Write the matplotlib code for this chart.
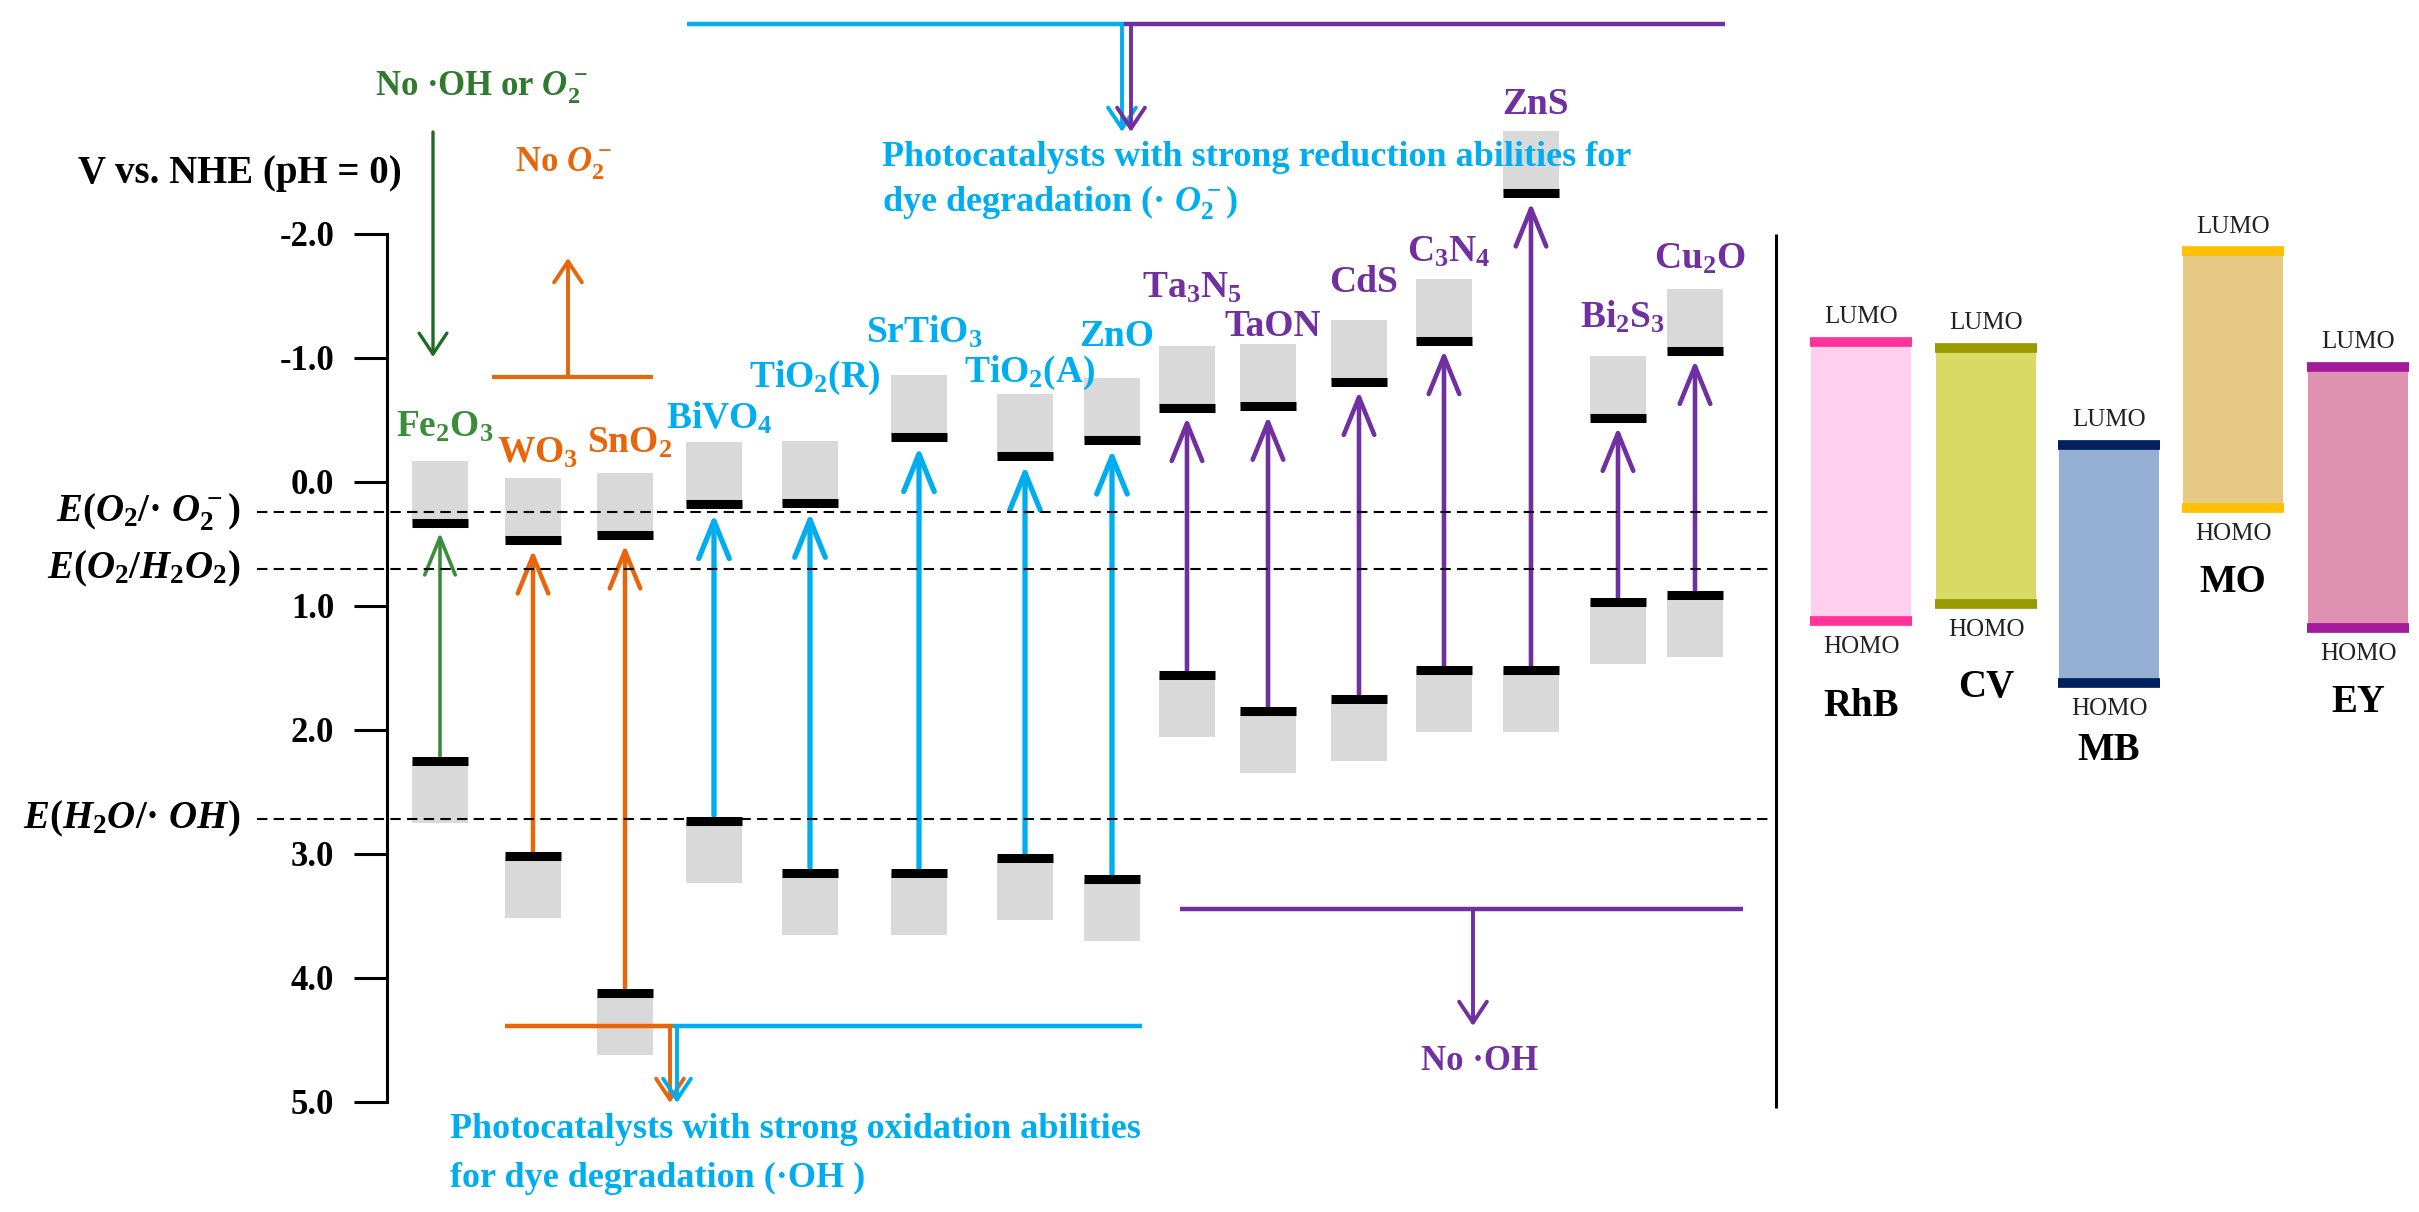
import matplotlib
matplotlib.use("Agg")
import matplotlib.pyplot as plt
import numpy as np
from matplotlib.ticker import FormatStrFormatter

plt.rcParams['font.family'] = ['Liberation Serif', 'DejaVu Serif']
plt.rcParams['font.weight'] = 'bold'
plt.rcParams['mathtext.fontset'] = 'custom'
plt.rcParams['mathtext.rm'] = 'Liberation Serif:bold'
plt.rcParams['mathtext.bf'] = 'Liberation Serif:bold'
plt.rcParams['mathtext.it'] = 'Liberation Serif:italic:bold'
plt.rcParams['mathtext.fallback'] = 'stix'
plt.rcParams['axes.unicode_minus'] = False

# semiconductor band edges (V vs NHE)
materials = ['Fe$_2$O$_3$', 'WO$_3$', 'SnO$_2$', 'BiVO$_4$', 'TiO$_2$(R)', 'SrTiO$_3$',
             'TiO$_2$(A)', 'ZnO', 'Ta$_3$N$_5$', 'TaON', 'CdS', 'C$_3$N$_4$', 'ZnS',
             'Bi$_2$S$_3$', 'Cu$_2$O']
cb = [0.33, 0.47, 0.43, 0.18, 0.17, -0.36, -0.21, -0.34, -0.60, -0.61, -0.81, -1.14, -2.33, -0.52, -1.06]
vb = [2.25, 3.02, 4.12, 2.73, 3.15, 3.15, 3.03, 3.20, 1.56, 1.85, 1.75, 1.52, 1.52, 0.97, 0.91]
group = ['g', 'o', 'o', 'c', 'c', 'c', 'c', 'c', 'p', 'p', 'p', 'p', 'p', 'p', 'p']

# dyes
dyes = ['RhB', 'CV', 'MB', 'MO', 'EY']
lumo = [-1.13, -1.08, -0.30, -1.86, -0.93]
homo = [1.12, 0.98, 1.62, 0.21, 1.18]

# redox potentials
redox_labels = [r'$E(O_2/$·$\ O_2^-)$', r'$E(O_2/H_2O_2)$', r'$E(H_2O/$·$\ OH)$']
redox_E = [0.24, 0.70, 2.72]

yticks = [-2, -1, 0, 1, 2, 3, 4, 5]

# ---- layout (pixels) ----
W, H = 2419, 1212
PX_EV = 124.0
ZERO_PX = 482.0
AX_LEFT = 387


def E(px):
    return (px - ZERO_PX) / PX_EV


x_mat = np.array([440, 533, 625, 714, 810, 919, 1025, 1112, 1187, 1268, 1359, 1444, 1531, 1618, 1695])
label_y_px = [427, 453, 443, 418, 378, 332, 373, 337, 288, 327, 283, 252, 105, 317, 259]
x_dye = np.array([1861, 1986, 2109, 2233, 2358])
dye_name_y_px = [707, 688, 751, 583, 703]
EXT = 0.5
BOX_W = 56

colors = {'g': '#3A8E3A', 'o': '#E8650A', 'c': '#00AEEF', 'p': '#7030A0'}
arrow_lw = {'g': 2.6, 'o': 3.2, 'c': 3.8, 'p': 3.3}
dye_fill = ['#FDD0EE', '#D9D966', '#95B0D3', '#E6C982', '#DE92AF']
dye_edge = ['#FF3399', '#999900', '#002060', '#FFC000', '#A5199B']

fig = plt.figure(figsize=(W / 100, H / 100), dpi=100)
ax = fig.add_axes([AX_LEFT / W, 0, 1 - AX_LEFT / W, 1])
ax.set_xlim(AX_LEFT, W)
ax.set_ylim(E(H), E(0))

for s in ['top', 'right', 'bottom']:
    ax.spines[s].set_visible(False)
ax.spines['left'].set_bounds(-2, 5)
ax.spines['left'].set_linewidth(2.2)
ax.set_xticks([])
ax.set_yticks(yticks)
ax.yaxis.set_major_formatter(FormatStrFormatter('%.1f'))
ax.tick_params(axis='y', direction='out', length=24, width=2.2, pad=14, labelsize=25)

ax.text(240, E(173), 'V vs. NHE (pH = 0)', ha='center', va='center', fontsize=28)

# gray band regions
cb_a = np.array(cb)
vb_a = np.array(vb)
ax.bar(x_mat, EXT, bottom=cb_a - EXT, width=BOX_W, color='#D9D9D9', zorder=1)
ax.bar(x_mat, EXT, bottom=vb_a, width=BOX_W, color='#D9D9D9', zorder=1)
ax.hlines(cb_a, x_mat - BOX_W / 2, x_mat + BOX_W / 2, color='black', lw=6.5, zorder=3)
ax.hlines(vb_a, x_mat - BOX_W / 2, x_mat + BOX_W / 2, color='black', lw=6.5, zorder=3)

for x, c, v, g, name, ly in zip(x_mat, cb, vb, group, materials, label_y_px):
    col = colors[g]
    ax.annotate('', xy=(x, c), xytext=(x, v),
                arrowprops=dict(arrowstyle='->,head_length=1.35,head_width=0.55',
                                mutation_scale=20, lw=arrow_lw[g], color=col,
                                shrinkA=3.5, shrinkB=7), zorder=2)
    ax.text(x + 5, E(ly), name, color=col, ha='center', va='center', fontsize=27)

# redox levels
for lab, e in zip(redox_labels, redox_E):
    ax.hlines(e, 257, 1769, colors='black', linestyles=(0, (5, 3)), lw=1.5, zorder=4, clip_on=False)
    ax.text(240, e, lab, ha='right', va='center', fontsize=28)


def small_arrow(x, y0, y1, col, lw=2.8):
    ax.annotate('', xy=(x, y1), xytext=(x, y0),
                arrowprops=dict(arrowstyle='->,head_length=0.75,head_width=0.5',
                                mutation_scale=20, lw=lw, color=col,
                                shrinkA=0, shrinkB=0), zorder=2, annotation_clip=False)


# top: strong reduction
ax.plot([687, 1124], [E(24), E(24)], color=colors['c'], lw=3.2, clip_on=False, solid_capstyle='butt')
ax.plot([1124, 1725], [E(24), E(24)], color=colors['p'], lw=3.2, clip_on=False, solid_capstyle='butt')
small_arrow(1122, E(24), E(132), colors['c'])
small_arrow(1131, E(24), E(132), colors['p'])
ax.text(882, E(157), 'Photocatalysts with strong reduction abilities for', color=colors['c'],
        ha='left', va='center', fontsize=26)
ax.text(882, E(203), r'dye degradation (· $O_2^-$)', color=colors['c'],
        ha='left', va='center', fontsize=26)

# green: no OH or O2-
ax.text(375, E(88), r'No ·OH or $O_2^-$', color='#2E7A2E', ha='left', va='center', fontsize=25)
small_arrow(433, E(132), E(357), '#1E6B23', lw=2.4)

# orange: no O2-
ax.plot([492, 653], [E(377), E(377)], color=colors['o'], lw=3.0, solid_capstyle='butt')
small_arrow(568, E(377), E(258), colors['o'], lw=2.8)
ax.text(563, E(164), r'No $O_2^-$', color=colors['o'], ha='center', va='center', fontsize=25)

# bottom: strong oxidation
ax.plot([505, 673], [E(1026), E(1026)], color=colors['o'], lw=3.2, solid_capstyle='butt')
ax.plot([673, 1142], [E(1026), E(1026)], color=colors['c'], lw=3.2, solid_capstyle='butt')
small_arrow(670, E(1026), E(1103), colors['o'])
small_arrow(677, E(1026), E(1103), colors['c'])
ax.text(450, E(1130), 'Photocatalysts with strong oxidation abilities', color=colors['c'],
        ha='left', va='center', fontsize=26)
ax.text(450, E(1178), 'for dye degradation (·OH )', color=colors['c'],
        ha='left', va='center', fontsize=26)

# purple: no OH
ax.plot([1180, 1743], [E(909), E(909)], color=colors['p'], lw=3.2, solid_capstyle='butt')
small_arrow(1473, E(909), E(1026), colors['p'])
ax.text(1480, E(1061), 'No ·OH', color=colors['p'], ha='center', va='center', fontsize=25)

# separator
ax.vlines(1776, -2.0, 5.05, colors='black', lw=2.2)

# dyes panel
lumo_a = np.array(lumo)
homo_a = np.array(homo)
ax.bar(x_dye, homo_a - lumo_a, bottom=lumo_a, width=100, color=dye_fill, zorder=1)
for x, lo, hi, fc, ec, name, ny in zip(x_dye, lumo, homo, dye_fill, dye_edge, dyes, dye_name_y_px):
    ax.hlines([lo, hi], x - 51, x + 51, colors=ec, lw=7, zorder=3)
    ax.text(x, lo - 0.2, 'LUMO', ha='center', va='center', fontsize=18, fontweight='normal', color='#222222')
    ax.text(x, hi + 0.21, 'HOMO', ha='center', va='center', fontsize=18, fontweight='normal', color='#222222')
    ax.text(x, E(ny), name, ha='center', va='center', fontsize=28, color='black')

fig.savefig('out.png', dpi=100)
